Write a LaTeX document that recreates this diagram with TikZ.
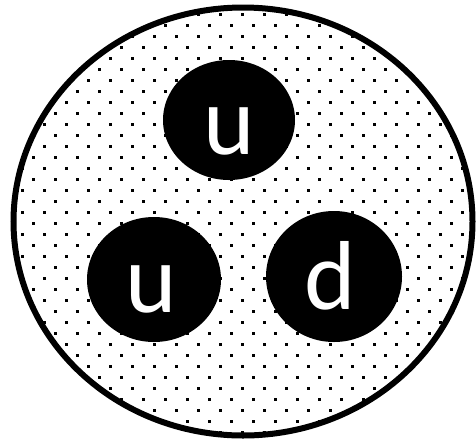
\documentclass[tikz,border=0pt]{standalone}
\usepackage{fontspec}
\setmainfont{Carlito}
\usetikzlibrary{shapes.geometric}
\begin{document}
\begin{tikzpicture}[x=1pt,y=-1pt,
  quark/.style={ellipse,fill=black,inner sep=0pt},
  qlabel/.style={anchor=base,text=white,inner sep=0pt,font=\fontsize{98}{98}\selectfont},
  dotmark/.style={fill=black}]
\useasboundingbox (0,0) rectangle (476,440);
\begin{scope}
  \clip (243,221.5) ellipse [x radius=229.5, y radius=214];
  \foreach \a in {-8,...,11}{
    \foreach \b in {0,...,21}{
      \fill[dotmark] ({22*\b-1.5},{190+22*\a-1.5}) rectangle +(3,3);
    }
  }
  \foreach \a in {-9,...,10}{
    \foreach \b in {0,...,21}{
      \fill[dotmark] ({11+22*\b-1.5},{201+22*\a-1.5}) rectangle +(3,3);
    }
  }
\end{scope}
\draw[line width=6pt] (243,221.5) ellipse [x radius=229.5, y radius=214];
\node[quark,minimum width=132pt,minimum height=120pt] (q1) at (229,120) {};
\node[quark,minimum width=134pt,minimum height=125pt] (q2) at (154,279.5) {};
\node[quark,minimum width=136pt,minimum height=131pt] (q3) at (334,276.5) {};
\node[qlabel] (l1) at (229,154) {u};
\node[qlabel] (l2) at (151,312) {u};
\node[qlabel] (l3) at (330,309) {d};
\end{tikzpicture}
\end{document}
